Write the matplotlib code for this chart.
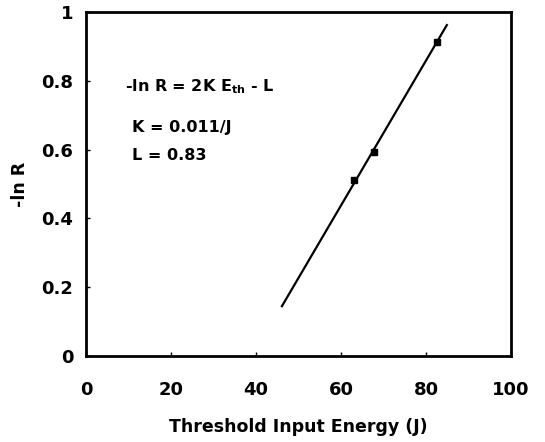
import matplotlib
matplotlib.use("Agg")
import matplotlib.pyplot as plt
import numpy as np

plt.rcParams['font.family'] = ['DejaVu Sans']
plt.rcParams['font.weight'] = 'bold'
plt.rcParams['mathtext.fontset'] = 'custom'
plt.rcParams['mathtext.rm'] = 'DejaVu Sans:bold'
plt.rcParams['mathtext.bf'] = 'DejaVu Sans:bold'

# data points
energy = [63.1, 67.8, 82.6]
neg_ln_r = [0.512, 0.593, 0.913]

# fitted line
fit_x = [46.1, 84.9]
fit_slope = 0.02106
fit_intercept = -0.826

x_ticks = [0, 20, 40, 60, 80, 100]
x_tick_labels = ['0', '20', '40', '60', '80', '100']
y_ticks = [0, 0.2, 0.4, 0.6, 0.8, 1.0]
y_tick_labels = ['0', '0.2', '0.4', '0.6', '0.8', '1']

fig = plt.figure(figsize=(5.45, 4.42), dpi=100)
ax = fig.add_axes([86/545, 1-356/442, (511-86)/545, (356-12)/442])

fx = np.array(fit_x)
ax.plot(fx, fit_slope*fx + fit_intercept, color='black', lw=1.6)
ax.plot(energy, neg_ln_r, 's', color='black', markersize=4.2)

ax.set_xlim(0, 100)
ax.set_ylim(0, 1)
ax.set_xticks(x_ticks)
ax.set_xticklabels(x_tick_labels)
ax.set_yticks(y_ticks)
ax.set_yticklabels(y_tick_labels)
ax.tick_params(axis='x', direction='in', length=3, width=1, pad=18, labelsize=13)
ax.tick_params(axis='y', direction='in', length=3, width=1, pad=9, labelsize=13)
for lab in ax.get_xticklabels() + ax.get_yticklabels():
    lab.set_fontweight('bold')
for s in ax.spines.values():
    s.set_linewidth(2.0)

ax.set_xlabel('Threshold Input Energy (J)', fontsize=12.5, fontweight='bold', labelpad=14)
ax.set_ylabel('-ln R', fontsize=12.5, fontweight='bold', labelpad=9)

ax.text(9.2, 0.782, r'-ln R = 2K E$_{\mathrm{th}}$ - L', fontsize=11.5, fontweight='bold', va='center', ha='left')
ax.text(10.8, 0.663, 'K = 0.011/J', fontsize=11.5, fontweight='bold', va='center', ha='left')
ax.text(10.8, 0.584, 'L = 0.83', fontsize=11.5, fontweight='bold', va='center', ha='left')

fig.savefig('out.png', dpi=100)
